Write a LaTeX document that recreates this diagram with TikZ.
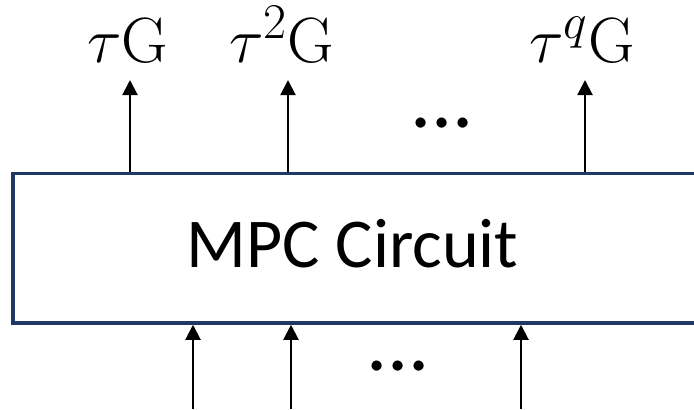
\RequirePackage{fix-cm}
\documentclass[tikz,border=0pt]{standalone}
\usepackage{amsmath}
\usepackage[no-math]{fontspec}
\setmainfont{Carlito}
\usepackage{tikz}
\usetikzlibrary{positioning,arrows.meta}
\DeclareMathSizes{32}{32}{25}{20}
\definecolor{navy}{HTML}{1F3864}
\tikzstyle{circuit}=[rectangle, draw=navy, line width=1.75pt, minimum width=353.5pt,
        minimum height=74.75pt, inner sep=0pt]
\tikzstyle{title}=[anchor=base, inner sep=0pt, font=\fontsize{35}{42}\selectfont]
\tikzstyle{power}=[anchor=base, inner sep=0pt, font=\fontsize{32}{38}\selectfont]
\tikzstyle{etc}=[anchor=base, inner sep=0pt, font=\fontsize{42}{50}\selectfont]
\tikzstyle{wire}=[-{Triangle[length=7.5pt,width=7.5pt]}, line width=1pt]

\begin{document}
\begin{tikzpicture}[x=0.5pt, y=-0.5pt]
	\useasboundingbox (0,0) rectangle (694,409);

	% the circuit runs off to the right
	\node (circ) [circuit] at (366.5,248.25) {};
	\node (name) [title] at (352.5,267) {MPC Circuit};

	% outputs
	\node (out1) [power] at (128,62) {$\tau\mathrm{G}$};
	\node (out2) [power] at (282,62) {$\tau^{2}\mathrm{G}$};
	\node (out3) [power] at (582,62) {$\tau^{q}\mathrm{G}$};
	\coordinate (tip1) at (130,80);
	\coordinate (tip2) at (288,80);
	\coordinate (tip3) at (585,80);
	\node (dotsup) [etc] at (442,127) {...};

	\foreach \n in {1,2,3}
		\draw[wire] (tip\n |- circ.north) -- (tip\n);

	% inputs
	\coordinate (in1) at (193,409);
	\coordinate (in2) at (291,409);
	\coordinate (in3) at (521,409);
	\node (dotsdown) [etc] at (398,370) {...};

	\foreach \n in {1,2,3}
		\draw[wire] (in\n) -- (in\n |- circ.south);

\end{tikzpicture}
\end{document}
